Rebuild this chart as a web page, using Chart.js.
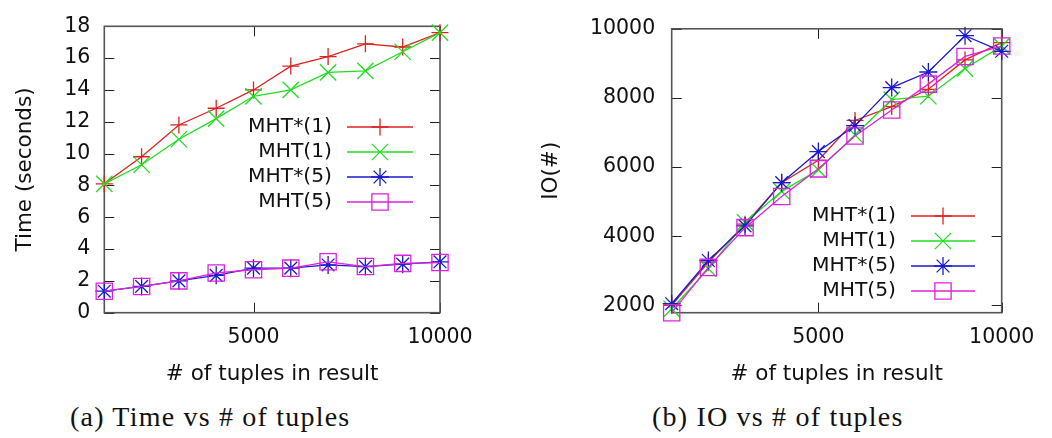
<!DOCTYPE html>
<html>
<head>
<meta charset="utf-8">
<script src="https://cdn.jsdelivr.net/npm/chart.js"></script>
<style>
  html, body { margin: 0; padding: 0; background: #ffffff; }
  body { width: 1052px; height: 438px; position: relative; overflow: hidden; }
  canvas { position: absolute; top: 0; }
  #c1 { left: 0; }
  #c2 { left: 520px; }
  .cap { position: absolute; top: 402px; font-family: 'Liberation Serif', serif; font-size: 28px; line-height: 30px; letter-spacing: 1.2px; color: #111; white-space: nowrap; }
</style>
</head>
<body>
<canvas id="c1" width="520" height="395"></canvas>
<canvas id="c2" width="532" height="395"></canvas>
<div class="cap" style="left:70px">(a) Time vs # of tuples</div>
<div class="cap" style="left:652px">(b) IO vs # of tuples</div>
<script>
// ---------------- data ----------------
const tuples = [1000, 2000, 3000, 4000, 5000, 6000, 7000, 8000, 9000, 10000];
const seriesLabels = ['MHT*(1)', 'MHT(1)', 'MHT*(5)', 'MHT(5)'];

const timeMHTStar1 = [8.1, 9.8, 11.8, 12.85, 14.0, 15.5, 16.1, 16.9, 16.7, 17.6];
const timeMHT1     = [8.1, 9.3, 10.9, 12.2, 13.6, 14.0, 15.1, 15.2, 16.4, 17.6];
const timeMHTStar5 = [1.35, 1.65, 2.0, 2.35, 2.8, 2.8, 3.0, 2.9, 3.05, 3.2];
const timeMHT5     = [1.35, 1.65, 2.0, 2.5, 2.7, 2.8, 3.2, 2.9, 3.1, 3.15];

const ioMHTStar1 = [2000, 3250, 4350, 5550, 6200, 7350, 7750, 8250, 9100, 9600];
const ioMHT1     = [1900, 3060, 4400, 5300, 5920, 6930, 7950, 8050, 8850, 9500];
const ioMHTStar5 = [2050, 3300, 4300, 5550, 6450, 7200, 8300, 8750, 9800, 9350];
const ioMHT5     = [1790, 3100, 4250, 5150, 5950, 6900, 7650, 8400, 9200, 9500];

const xTickValues = [5000, 10000];
const timeTickValues = [0, 2, 4, 6, 8, 10, 12, 14, 16, 18];
const ioTickValues = [2000, 4000, 6000, 8000, 10000];

const xAxisTitle = '# of tuples in result';
const timeAxisTitle = 'Time (seconds)';
const ioAxisTitle = 'IO(#)';

// ---------------- styles ----------------
const FONT = "'DejaVu Sans', sans-serif";
const TICK_SIZE = 20.5;
const TITLE_SIZE = 21.5;
const LEGEND_SIZE = 20.3;
const styles = [
  { color: '#dd2222', pointStyle: 'cross',    radius: 8.5 },
  { color: '#22dd22', pointStyle: 'crossRot', radius: 11.5 },
  { color: '#1a1acc', pointStyle: 'star',     radius: 9 },
  { color: '#dd22dd', pointStyle: 'rect',     radius: 11.5 }
];

function makeDatasets(seriesList) {
  return seriesList.map((vals, i) => ({
    label: seriesLabels[i],
    data: tuples.map((x, j) => ({ x: x, y: vals[j] })),
    borderColor: styles[i].color,
    backgroundColor: 'rgba(0,0,0,0)',
    pointBorderColor: styles[i].color,
    pointBackgroundColor: 'rgba(0,0,0,0)',
    pointStyle: styles[i].pointStyle,
    pointRadius: styles[i].radius,
    pointBorderWidth: 1.3,
    borderWidth: 1.3,
    tension: 0,
    clip: false,
    order: 3 - i
  }));
}

function drawMarker(ctx, style, r, x, y) {
  ctx.beginPath();
  if (style === 'cross' || style === 'star') {
    ctx.moveTo(x - r, y); ctx.lineTo(x + r, y);
    ctx.moveTo(x, y - r); ctx.lineTo(x, y + r);
  }
  if (style === 'crossRot' || style === 'star') {
    const d = r * Math.SQRT1_2;
    ctx.moveTo(x - d, y - d); ctx.lineTo(x + d, y + d);
    ctx.moveTo(x - d, y + d); ctx.lineTo(x + d, y - d);
  }
  if (style === 'rect') {
    const s = r * Math.SQRT1_2;
    ctx.rect(x - s, y - s, 2 * s, 2 * s);
  }
  ctx.stroke();
}

const gnuplotLook = {
  id: 'gnuplotLook',
  beforeDatasetsDraw(chart) {
    const { ctx, chartArea: a, scales } = chart;
    ctx.save();
    ctx.strokeStyle = '#222';
    ctx.lineWidth = 1;
    const L = 10;
    scales.x.ticks.forEach(t => {
      const px = Math.round(scales.x.getPixelForValue(t.value)) + 0.5;
      ctx.beginPath();
      ctx.moveTo(px, a.bottom); ctx.lineTo(px, a.bottom - L);
      ctx.moveTo(px, a.top); ctx.lineTo(px, a.top + L);
      ctx.stroke();
    });
    scales.y.ticks.forEach(t => {
      const py = Math.round(scales.y.getPixelForValue(t.value)) + 0.5;
      ctx.beginPath();
      ctx.moveTo(a.left, py); ctx.lineTo(a.left + L, py);
      ctx.moveTo(a.right, py); ctx.lineTo(a.right - L, py);
      ctx.stroke();
    });
    ctx.strokeStyle = '#555';
    ctx.lineWidth = 1.6;
    ctx.strokeRect(a.left, a.top, a.right - a.left, a.bottom - a.top);
    ctx.restore();
  },
  afterDatasetsDraw(chart, args, opts) {
    const { ctx } = chart;
    ctx.save();
    ctx.font = LEGEND_SIZE + 'px ' + FONT;
    ctx.textAlign = 'right';
    ctx.textBaseline = 'middle';
    chart.data.datasets.forEach((ds, i) => {
      const y = opts.firstRowY + i * opts.rowGap;
      ctx.fillStyle = '#111';
      ctx.fillText(ds.label, opts.textRight, y);
      ctx.strokeStyle = ds.borderColor;
      ctx.lineWidth = 1.3;
      ctx.beginPath();
      ctx.moveTo(opts.lineStart, y); ctx.lineTo(opts.lineEnd, y);
      ctx.stroke();
      drawMarker(ctx, ds.pointStyle, ds.pointRadius, (opts.lineStart + opts.lineEnd) / 2, y);
    });
    ctx.restore();
  }
};

function makeConfig(datasets, yMin, yMax, yTicks, yTitle, p) {
  return {
    type: 'line',
    data: { datasets: datasets },
    plugins: [gnuplotLook],
    options: {
      responsive: false,
      animation: false,
      devicePixelRatio: 1,
      layout: { padding: { top: p.top, right: p.right, bottom: 0, left: 0 } },
      plugins: {
        legend: { display: false },
        tooltip: { enabled: false },
        gnuplotLook: p.legend
      },
      scales: {
        x: {
          type: 'linear',
          min: 1000, max: 10000,
          grid: { display: false, drawTicks: false },
          border: { display: false },
          afterBuildTicks: s => { s.ticks = xTickValues.map(v => ({ value: v })); },
          afterFit: s => { s.height = p.xHeight; },
          ticks: {
            color: '#111', padding: 12.7, maxRotation: 0, autoSkip: false,
            font: { family: FONT, size: TICK_SIZE },
            callback: v => String(v)
          },
          title: {
            display: true, text: xAxisTitle, color: '#111',
            font: { family: FONT, size: TITLE_SIZE },
            padding: { top: 0, bottom: 8 }
          }
        },
        y: {
          type: 'linear',
          min: yMin, max: yMax,
          grid: { display: false, drawTicks: false },
          border: { display: false },
          afterBuildTicks: s => { s.ticks = yTicks.map(v => ({ value: v })); },
          afterFit: s => { s.width = p.yWidth; },
          ticks: {
            color: '#111', padding: p.yTickPad, autoSkip: false,
            font: { family: FONT, size: TICK_SIZE },
            callback: v => String(v)
          },
          title: {
            display: true, text: yTitle, color: '#111',
            font: { family: FONT, size: TITLE_SIZE },
            padding: { top: p.yTitlePad, bottom: 0 }
          }
        }
      }
    }
  };
}

new Chart(document.getElementById('c1'), makeConfig(
  makeDatasets([timeMHTStar1, timeMHT1, timeMHTStar5, timeMHT5]),
  0, 18, timeTickValues, timeAxisTitle,
  { top: 15.7, right: 80, xHeight: 82.3, yWidth: 104.3, yTickPad: 14, yTitlePad: 12.1,
    legend: { textRight: 332, lineStart: 347, lineEnd: 413, firstRowY: 127, rowGap: 25 } }
));

new Chart(document.getElementById('c2'), makeConfig(
  makeDatasets([ioMHTStar1, ioMHT1, ioMHTStar5, ioMHT5]),
  1790, 10000, ioTickValues, ioAxisTitle,
  { top: 15.7, right: 50.3, xHeight: 82.3, yWidth: 151.7, yTickPad: 16.5, yTitlePad: 18.8,
    legend: { textRight: 376, lineStart: 391, lineEnd: 455, firstRowY: 216, rowGap: 25 } }
));
</script>
</body>
</html>
